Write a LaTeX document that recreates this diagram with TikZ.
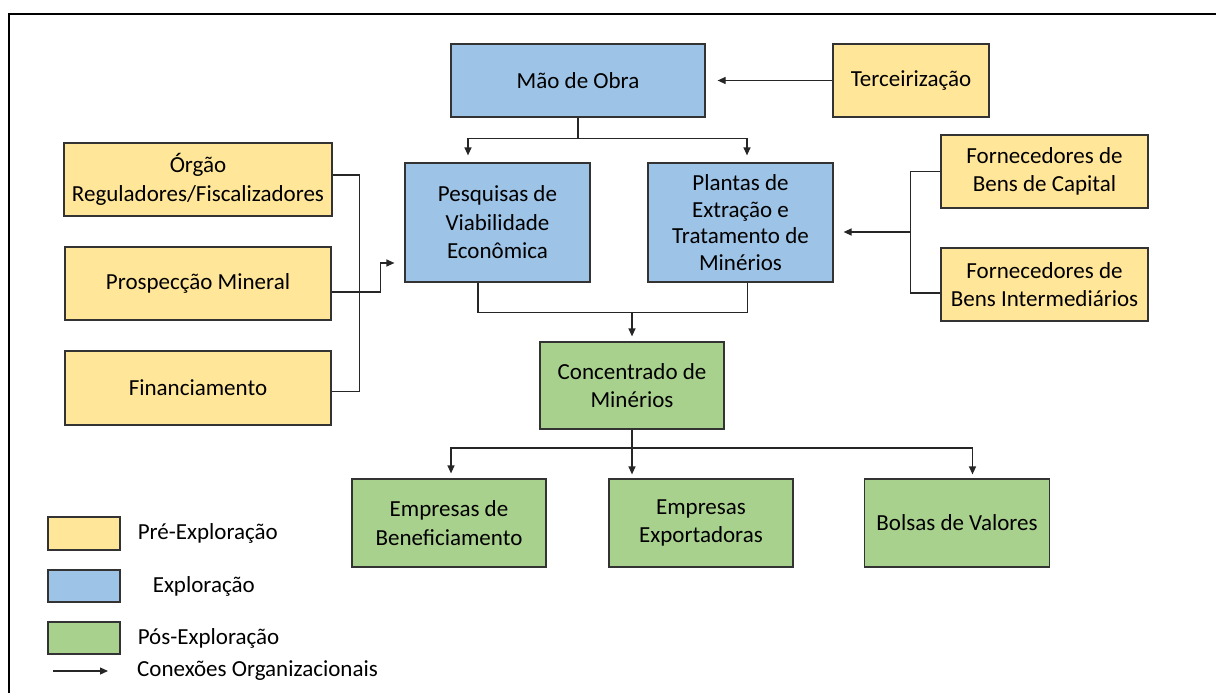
\documentclass[tikz,border=0pt]{standalone}
\usepackage{fontspec}
\setmainfont{Carlito}
\usetikzlibrary{positioning,arrows.meta}

\definecolor{preexp}{HTML}{FFE699}
\definecolor{exp}{HTML}{9DC3E6}
\definecolor{posexp}{HTML}{A9D18E}

\tikzset{
	box/.style={draw=black!80,line width=1.2pt,align=center,inner sep=0pt,font=\fontsize{23}{28.5}\selectfont},
	conn/.style={draw=black!85,line width=1.2pt},
	legend/.style={inner sep=0pt,font=\fontsize{23}{28.5}\selectfont},
}

\begin{document}
\begin{tikzpicture}[x=1pt,y=-1pt,>={Triangle[length=8pt,width=7pt]}]
	\useasboundingbox (0,0) rectangle (1216,693);
	\draw [line width=2pt] (8.5,693) -- (8.5,14) -- (1216,14);

	% exploracao
	\node (mao) [box,fill=exp,minimum width=254pt,minimum height=73pt] at (578,80.5) {Mão de Obra};
	\node (terc) [box,fill=preexp,minimum width=156pt,minimum height=73pt,right of=mao,node distance=333pt] {Terceirização};
	\node (pesq) [box,fill=exp,minimum width=185pt,minimum height=119pt] at (497.5,222.5) {Pesquisas de\\ Viabilidade\\ Econômica};
	\node (plant) [box,fill=exp,minimum width=185pt,minimum height=119pt,right of=pesq,node distance=243pt] {Plantas de\\[-2pt] Extração e\\[-2pt] Tratamento de\\[-2pt] Minérios};

	% pre-exploracao
	\node (orgao) [box,fill=preexp,minimum width=268pt,minimum height=73pt] at (198,179.5) {Órgão\\ Reguladores/Fiscalizadores};
	\node (prosp) [box,fill=preexp,minimum width=266pt,minimum height=73pt,below of=orgao,node distance=104pt] {Prospecção Mineral};
	\node (fin) [box,fill=preexp,minimum width=266pt,minimum height=74pt,below of=prosp,node distance=104.5pt] {Financiamento};
	\node (cap) [box,fill=preexp,minimum width=207pt,minimum height=73pt] at (1044.5,171.5) {Fornecedores de\\ Bens de Capital};
	\node (inter) [box,fill=preexp,minimum width=207pt,minimum height=73pt,below of=cap,node distance=113pt] {Fornecedores de\\ Bens Intermediários};

	% pos-exploracao
	\node (conc) [box,fill=posexp,minimum width=184pt,minimum height=87pt] at (632,385.5) {Concentrado de\\ Minérios};
	\node (benef) [box,fill=posexp,minimum width=194pt,minimum height=88pt] at (449,523) {Empresas de\\ Beneficiamento};
	\node (export) [box,fill=posexp,minimum width=184pt,minimum height=88pt,right of=benef,node distance=252pt] {Empresas\\ Exportadoras};
	\node (bolsas) [box,fill=posexp,minimum width=185pt,minimum height=88pt,right of=export,node distance=256pt] {Bolsas de Valores};

	% conexoes
	\draw [conn,->,shorten >=12pt] (terc) -- (mao);
	\draw [conn,->,shorten >=7pt] (mao.south) -- ++(0,21) -| ([xshift=-29.5pt]pesq.north);
	\draw [conn,->,shorten >=7pt] (mao.south) -- ++(0,21) -| ([xshift=6.5pt]plant.north);

	\draw [conn] ([yshift=4.5pt]orgao.east) -- ++(27,0) |- ([yshift=-3.7pt]fin.east);
	\draw [conn,->,shorten >=10pt] ([yshift=-8.5pt]prosp.east) -- ++(49,0) |- ([yshift=-40.5pt]pesq.west);

	\draw [conn] (cap.west) -- ++(-30,0) |- ([yshift=-8.5pt]inter.west);
	\coordinate (supply) at (911,232);
	\draw [conn,->,shorten >=10pt] (supply) -- (supply -| plant.east);

	\draw [conn] ([xshift=-19.5pt]pesq.south) -- ++(0,30) -| ([xshift=7pt]plant.south);
	\coordinate (merge) at (632,312);
	\draw [conn,->,shorten >=5pt] (merge) -- (conc.north);

	\coordinate (split) at (632,448);
	\draw [conn] (conc.south) -- (split);
	\draw [conn,->,shorten >=5pt] (split) -| ([xshift=2pt]benef.north);
	\draw [conn,->,shorten >=4pt] (split) -- (split |- export.north);
	\draw [conn,->,shorten >=4pt] (split) -| ([xshift=15.5pt]bolsas.north);

	% legenda
	\node (swpre) [box,fill=preexp,minimum width=72pt,minimum height=33pt] at (84,533.5) {};
	\node (swexp) [box,fill=exp,minimum width=72pt,minimum height=32pt] at (84,586) {};
	\node (swpos) [box,fill=posexp,minimum width=72pt,minimum height=32pt] at (84,638) {};
	\node (lpre) [legend,right=17pt of swpre] {Pré-Exploração};
	\node (lexp) [legend,right=32pt of swexp] {Exploração};
	\node (lpos) [legend,right=17pt of swpos] {Pós-Exploração};
	\coordinate (la) at (53,671);
	\coordinate (lb) at (108,671);
	\draw [conn,->] (la) -- (lb);
	\node (lconn) [legend,anchor=west] at (137,671) {Conexões Organizacionais};

\end{tikzpicture}
\end{document}
